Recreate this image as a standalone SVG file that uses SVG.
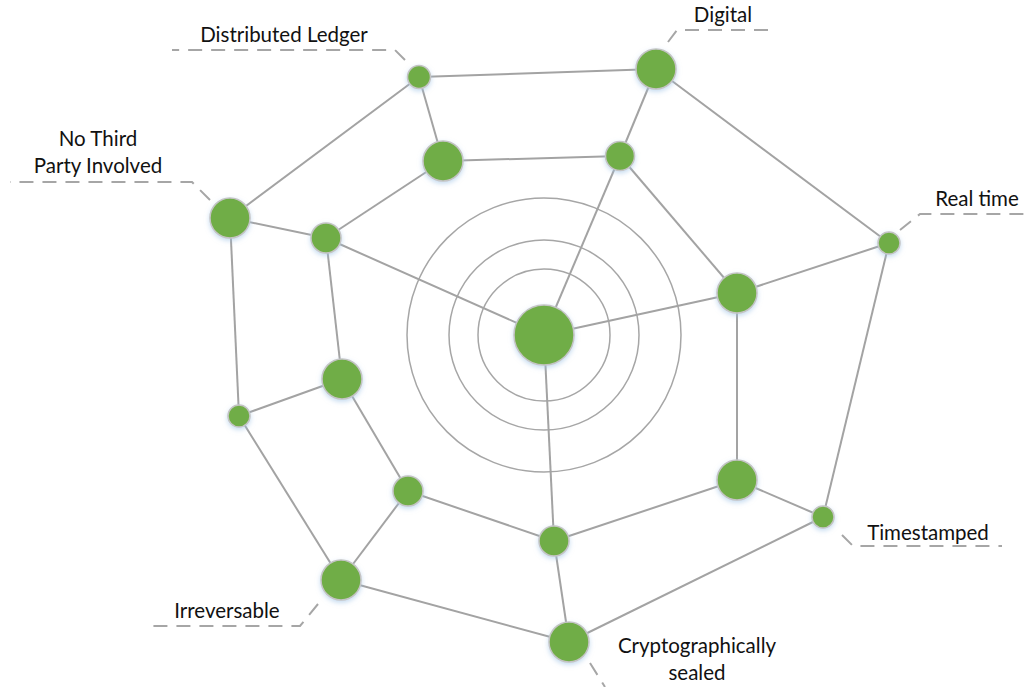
<svg xmlns="http://www.w3.org/2000/svg" width="1024" height="687" viewBox="0 0 1024 687">
  <defs>
    <filter id="glow" x="-50%" y="-50%" width="200%" height="200%">
      <feDropShadow dx="0" dy="2" stdDeviation="2.5" flood-color="#9dc3e6" flood-opacity="0.6"/>
    </filter>
    <style>
      .edge { stroke: #a3a3a3; stroke-width: 2; fill: none; }
      .ring { stroke: #a6a6a6; stroke-width: 1.5; fill: none; }
      .node { fill: #70ad47; stroke: #c4c4c4; stroke-width: 1.5; filter: url(#glow); }
      .lead { stroke: #a6a6a6; stroke-width: 2; fill: none; stroke-dasharray: 14 9; }
      .label { font-family: Lato, "Open Sans", sans-serif; font-size: 20.5px; fill: #111111; }
    </style>
  </defs>
  <rect width="1024" height="687" fill="#ffffff"/>

  <!-- concentric rings around the hub -->
  <g id="rings">
    <circle class="ring" cx="544" cy="335" r="137"/>
    <circle class="ring" cx="544" cy="335" r="95"/>
    <circle class="ring" cx="544" cy="335" r="66"/>
  </g>

  <!-- connectors -->
  <g id="connectors">
    <!-- outer ring -->
    <line class="edge" x1="419" y1="77" x2="656" y2="69"/>
    <line class="edge" x1="656" y1="69" x2="889" y2="243"/>
    <line class="edge" x1="889" y1="243" x2="823" y2="517"/>
    <line class="edge" x1="823" y1="517" x2="569" y2="642"/>
    <line class="edge" x1="569" y1="642" x2="341" y2="580"/>
    <line class="edge" x1="341" y1="580" x2="239" y2="416"/>
    <line class="edge" x1="239" y1="416" x2="230" y2="218"/>
    <line class="edge" x1="230" y1="218" x2="419" y2="77"/>
    <!-- inner ring -->
    <line class="edge" x1="443" y1="161" x2="620" y2="156"/>
    <line class="edge" x1="620" y1="156" x2="737" y2="293"/>
    <line class="edge" x1="737" y1="293" x2="737" y2="480"/>
    <line class="edge" x1="737" y1="480" x2="554" y2="541"/>
    <line class="edge" x1="554" y1="541" x2="408" y2="491"/>
    <line class="edge" x1="408" y1="491" x2="342" y2="379"/>
    <line class="edge" x1="342" y1="379" x2="326" y2="238"/>
    <line class="edge" x1="326" y1="238" x2="443" y2="161"/>
    <!-- spokes between rings -->
    <line class="edge" x1="419" y1="77" x2="443" y2="161"/>
    <line class="edge" x1="656" y1="69" x2="620" y2="156"/>
    <line class="edge" x1="889" y1="243" x2="737" y2="293"/>
    <line class="edge" x1="823" y1="517" x2="737" y2="480"/>
    <line class="edge" x1="569" y1="642" x2="554" y2="541"/>
    <line class="edge" x1="341" y1="580" x2="408" y2="491"/>
    <line class="edge" x1="239" y1="416" x2="342" y2="379"/>
    <line class="edge" x1="230" y1="218" x2="326" y2="238"/>
    <!-- hub spokes -->
    <line class="edge" x1="544" y1="335" x2="620" y2="156"/>
    <line class="edge" x1="544" y1="335" x2="737" y2="293"/>
    <line class="edge" x1="544" y1="335" x2="554" y2="541"/>
    <line class="edge" x1="544" y1="335" x2="326" y2="238"/>
  </g>

  <!-- label leaders -->
  <g id="leaders">
    <polyline class="lead" points="405,60 395,50 172,50"/>
    <polyline class="lead" points="668,42 677,30 768,30"/>
    <polyline class="lead" points="210,200 192,182 10,182"/>
    <polyline class="lead" points="900,230 920,214 1024,214"/>
    <polyline class="lead" points="842,535 853,546 1002,546"/>
    <polyline class="lead" points="318,604 300,626 153,626"/>
    <polyline class="lead" points="590,663 605,687"/>
  </g>

  <g id="hub"><circle class="node" cx="544" cy="335" r="30"/></g>

  <g id="n-ledger"><circle class="node" cx="419" cy="77" r="11.5"/></g>
  <g id="n-digital"><circle class="node" cx="656" cy="69" r="20"/></g>
  <g id="n-realtime"><circle class="node" cx="889" cy="243" r="11"/></g>
  <g id="n-timestamped"><circle class="node" cx="823" cy="517" r="11"/></g>
  <g id="n-sealed"><circle class="node" cx="569" cy="642" r="20"/></g>
  <g id="n-irreversable"><circle class="node" cx="341" cy="580" r="20"/></g>
  <g id="n-outer-w"><circle class="node" cx="239" cy="416" r="11"/></g>
  <g id="n-thirdparty"><circle class="node" cx="230" cy="218" r="20"/></g>

  <g id="m-1"><circle class="node" cx="443" cy="161" r="20"/></g>
  <g id="m-2"><circle class="node" cx="620" cy="156" r="14.5"/></g>
  <g id="m-3"><circle class="node" cx="737" cy="293" r="20"/></g>
  <g id="m-4"><circle class="node" cx="737" cy="480" r="20"/></g>
  <g id="m-5"><circle class="node" cx="554" cy="541" r="15"/></g>
  <g id="m-6"><circle class="node" cx="408" cy="491" r="15"/></g>
  <g id="m-7"><circle class="node" cx="342" cy="379" r="20"/></g>
  <g id="m-8"><circle class="node" cx="326" cy="238" r="15"/></g>

  <!-- labels -->
  <g id="labels">
    <text class="label" x="284" y="42" text-anchor="middle">Distributed Ledger</text>
    <text class="label" x="723" y="22" text-anchor="middle">Digital</text>
    <text class="label" x="98" y="146" text-anchor="middle">No Third</text>
    <text class="label" x="98" y="173" text-anchor="middle">Party Involved</text>
    <text class="label" x="977" y="206" text-anchor="middle">Real time</text>
    <text class="label" x="928" y="540" text-anchor="middle">Timestamped</text>
    <text class="label" x="227" y="618" text-anchor="middle">Irreversable</text>
    <text class="label" x="697" y="653" text-anchor="middle">Cryptographically</text>
    <text class="label" x="697" y="680" text-anchor="middle">sealed</text>
  </g>
</svg>
